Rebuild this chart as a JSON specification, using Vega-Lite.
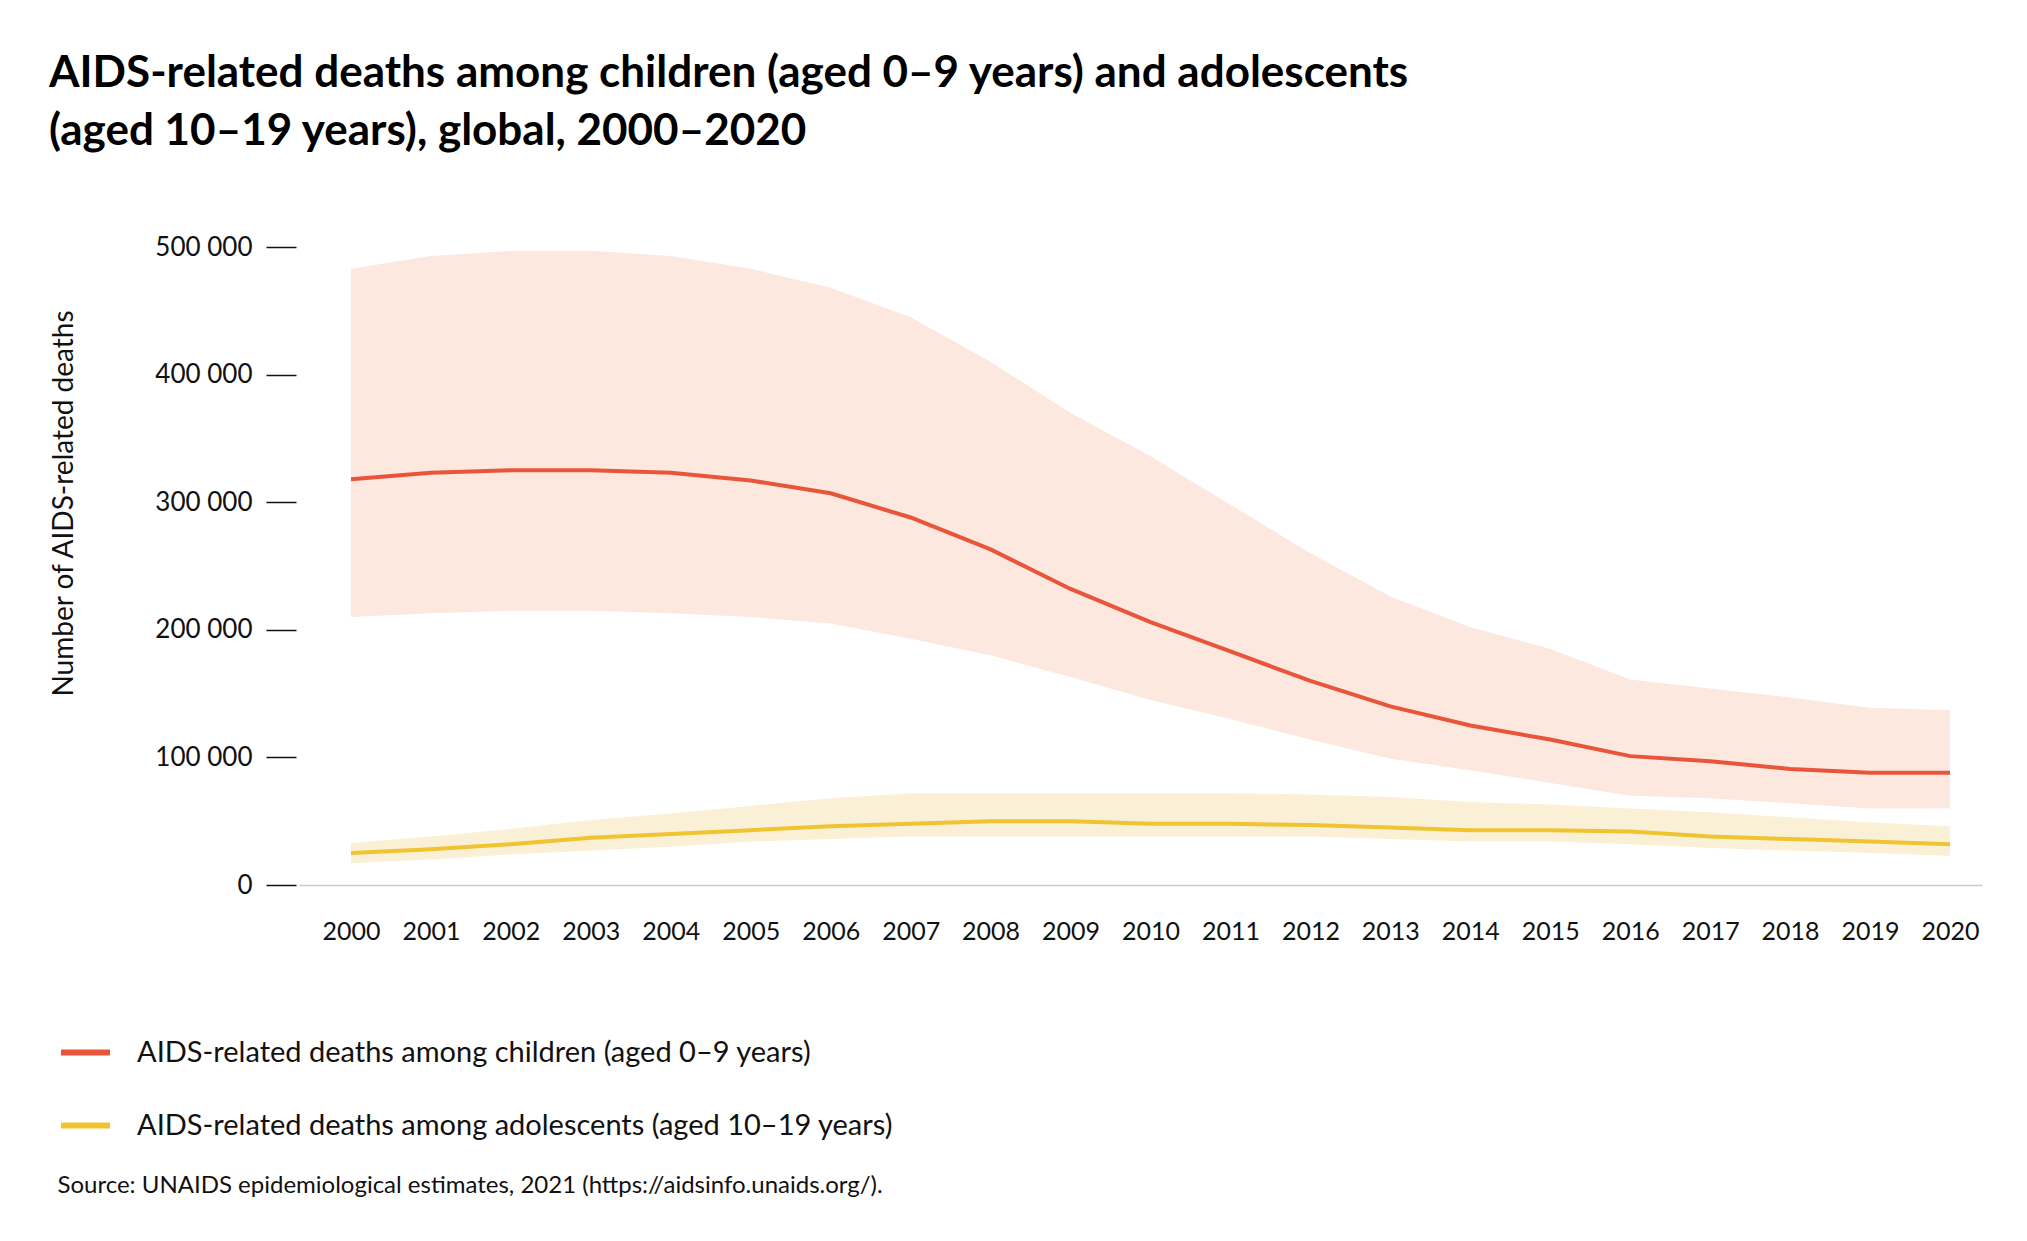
{
  "$schema": "https://vega.github.io/schema/vega-lite/v6.json",
  "width": 1683,
  "height": 638,
  "autosize": "none",
  "padding": {"left": 299, "top": 247, "right": 45, "bottom": 356},
  "background": "white",
  "config": {
    "font": "Lato",
    "view": {"stroke": null},
    "axis": {"grid": false, "labelColor": "#111", "titleColor": "#111", "labelFont": "Lato", "titleFont": "Lato"}
  },
  "title": {
    "text": ["AIDS-related deaths among children (aged 0–9 years) and adolescents", "(aged 10–19 years), global, 2000–2020"],
    "anchor": "start",
    "frame": "group",
    "dx": -250,
    "offset": 80,
    "fontSize": 44,
    "fontWeight": "bold",
    "lineHeight": 58,
    "color": "#000"
  },
  "data": {
    "values": [
      {"year": 2000, "group": "children", "v": 318000, "lo": 210000, "hi": 483000},
      {"year": 2001, "group": "children", "v": 323000, "lo": 213000, "hi": 493000},
      {"year": 2002, "group": "children", "v": 325000, "lo": 215000, "hi": 497000},
      {"year": 2003, "group": "children", "v": 325000, "lo": 215000, "hi": 497000},
      {"year": 2004, "group": "children", "v": 323000, "lo": 213000, "hi": 493000},
      {"year": 2005, "group": "children", "v": 317000, "lo": 210000, "hi": 483000},
      {"year": 2006, "group": "children", "v": 307000, "lo": 205000, "hi": 468000},
      {"year": 2007, "group": "children", "v": 288000, "lo": 193000, "hi": 445000},
      {"year": 2008, "group": "children", "v": 263000, "lo": 180000, "hi": 410000},
      {"year": 2009, "group": "children", "v": 232000, "lo": 163000, "hi": 370000},
      {"year": 2010, "group": "children", "v": 206000, "lo": 145000, "hi": 336000},
      {"year": 2011, "group": "children", "v": 183000, "lo": 130000, "hi": 298000},
      {"year": 2012, "group": "children", "v": 160000, "lo": 114000, "hi": 260000},
      {"year": 2013, "group": "children", "v": 140000, "lo": 99000, "hi": 226000},
      {"year": 2014, "group": "children", "v": 125000, "lo": 90000, "hi": 202000},
      {"year": 2015, "group": "children", "v": 114000, "lo": 80000, "hi": 185000},
      {"year": 2016, "group": "children", "v": 101000, "lo": 70000, "hi": 161000},
      {"year": 2017, "group": "children", "v": 97000, "lo": 68000, "hi": 154000},
      {"year": 2018, "group": "children", "v": 91000, "lo": 64000, "hi": 147000},
      {"year": 2019, "group": "children", "v": 88000, "lo": 60000, "hi": 139000},
      {"year": 2020, "group": "children", "v": 88000, "lo": 60000, "hi": 137000},
      {"year": 2000, "group": "adolescents", "v": 25000, "lo": 17000, "hi": 33000},
      {"year": 2001, "group": "adolescents", "v": 28000, "lo": 20000, "hi": 38000},
      {"year": 2002, "group": "adolescents", "v": 32000, "lo": 24000, "hi": 44000},
      {"year": 2003, "group": "adolescents", "v": 37000, "lo": 27000, "hi": 51000},
      {"year": 2004, "group": "adolescents", "v": 40000, "lo": 30000, "hi": 56000},
      {"year": 2005, "group": "adolescents", "v": 43000, "lo": 34000, "hi": 62000},
      {"year": 2006, "group": "adolescents", "v": 46000, "lo": 36000, "hi": 68000},
      {"year": 2007, "group": "adolescents", "v": 48000, "lo": 38000, "hi": 72000},
      {"year": 2008, "group": "adolescents", "v": 50000, "lo": 38000, "hi": 72000},
      {"year": 2009, "group": "adolescents", "v": 50000, "lo": 38000, "hi": 72000},
      {"year": 2010, "group": "adolescents", "v": 48000, "lo": 38000, "hi": 72000},
      {"year": 2011, "group": "adolescents", "v": 48000, "lo": 38000, "hi": 72000},
      {"year": 2012, "group": "adolescents", "v": 47000, "lo": 38000, "hi": 71000},
      {"year": 2013, "group": "adolescents", "v": 45000, "lo": 36000, "hi": 69000},
      {"year": 2014, "group": "adolescents", "v": 43000, "lo": 34000, "hi": 65000},
      {"year": 2015, "group": "adolescents", "v": 43000, "lo": 34000, "hi": 63000},
      {"year": 2016, "group": "adolescents", "v": 42000, "lo": 32000, "hi": 60000},
      {"year": 2017, "group": "adolescents", "v": 38000, "lo": 29000, "hi": 57000},
      {"year": 2018, "group": "adolescents", "v": 36000, "lo": 27000, "hi": 53000},
      {"year": 2019, "group": "adolescents", "v": 34000, "lo": 25000, "hi": 49000},
      {"year": 2020, "group": "adolescents", "v": 32000, "lo": 23000, "hi": 46000}
    ]
  },
  "layer": [
    {
      "mark": {"type": "area", "opacity": 1},
      "encoding": {
        "x": {"field": "year", "type": "quantitative"},
        "y": {"field": "lo", "type": "quantitative"},
        "y2": {"field": "hi"},
        "detail": {"field": "group"},
        "fill": {
          "condition": {"test": "datum.group == 'children'", "value": "#FCE8DF"},
          "value": "#FAF0D5"
        }
      }
    },
    {
      "mark": {"type": "line", "strokeWidth": 4},
      "encoding": {
        "x": {
          "field": "year", "type": "quantitative",
          "scale": {"domain": [1999.35, 2020.4], "nice": false, "zero": false},
          "axis": {
            "values": [2000, 2001, 2002, 2003, 2004, 2005, 2006, 2007, 2008, 2009, 2010, 2011, 2012, 2013, 2014, 2015, 2016, 2017, 2018, 2019, 2020],
            "format": "d", "ticks": false, "domainColor": "#ccc", "domainWidth": 1.5,
            "labelFontSize": 25, "labelPadding": 34,
            "title": "Source: UNAIDS epidemiological estimates, 2021 (https://aidsinfo.unaids.org/).",
            "titleFontSize": 24, "titleFontWeight": "normal",
            "titleAnchor": "start", "titleAlign": "left", "titleX": -242, "titleY": 288
          }
        },
        "y": {
          "field": "v", "type": "quantitative",
          "scale": {"domain": [0, 500000], "nice": false},
          "axis": {
            "values": [0, 100000, 200000, 300000, 400000, 500000],
            "labelExpr": "replace(format(datum.value, ',d'), ',', ' ')",
            "domain": false, "tickSize": 30, "tickColor": "#111", "tickWidth": 1.5,
            "offset": 3, "labelPadding": 14, "labelFontSize": 26,
            "title": "Number of AIDS-related deaths", "titleFontSize": 28, "titleFontWeight": "normal",
            "titleX": -218, "titleY": 256
          }
        },
        "color": {
          "field": "group", "type": "nominal",
          "scale": {"domain": ["children", "adolescents"], "range": ["#E8553A", "#F0C330"]},
          "legend": {
            "orient": "none", "legendX": -241, "legendY": 778, "title": null,
            "symbolType": "stroke", "symbolSize": 2400, "symbolStrokeWidth": 6,
            "labelFontSize": 29, "labelColor": "#111", "rowPadding": 30, "labelOffset": 24,
            "labelExpr": "datum.value == 'children' ? 'AIDS-related deaths among children (aged 0–9 years)' : 'AIDS-related deaths among adolescents (aged 10–19 years)'",
            "labelLimit": 1200
          }
        }
      }
    }
  ]
}
